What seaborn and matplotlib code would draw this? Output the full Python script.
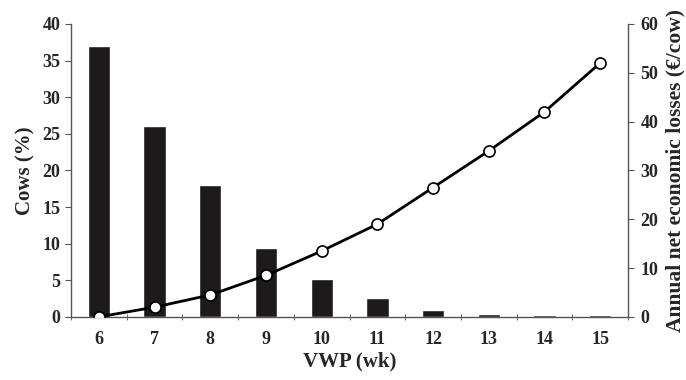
import numpy as np
import pandas as pd
import matplotlib
matplotlib.use("Agg")
import matplotlib.pyplot as plt
import seaborn as sns

# data
vwp = ["6", "7", "8", "9", "10", "11", "12", "13", "14", "15"]
cows_pct = [37, 26, 18, 9.4, 5.2, 2.6, 1.0, 0.45, 0.2, 0.2]
losses = [0, 2, 4.5, 8.5, 13.5, 19, 26.5, 34, 42, 52]

df = pd.DataFrame({"vwp": vwp, "cows": cows_pct, "loss": losses})

sns.set_style("white")
plt.rcParams["font.family"] = ["Liberation Serif", "DejaVu Serif"]
plt.rcParams["font.weight"] = "bold"

fig = plt.figure(figsize=(6.86, 3.8), dpi=100)
ax = fig.add_axes([0.1035, 0.166, 0.812, 0.771])

sns.barplot(data=df, x="vwp", y="cows", color="#1c1a1a", width=0.4,
            saturation=1, ax=ax)

ax2 = ax.twinx()
sns.pointplot(data=df, x="vwp", y="loss", color="black", markers="o",
              linewidth=2, markersize=8, markerfacecolor="white",
              markeredgecolor="black", markeredgewidth=1.2, ax=ax2)

ax.set_xlim(-0.5, 9.5)
ax.set_ylim(0, 40)
ax2.set_ylim(0, 60)
ax.set_yticks(np.arange(0, 41, 5))
ax2.set_yticks(np.arange(0, 61, 10))

spine_col = "#555555"
for a in (ax, ax2):
    a.spines["top"].set_visible(False)
    for s in ("left", "right", "bottom"):
        a.spines[s].set_color(spine_col)
        a.spines[s].set_linewidth(1.0)
ax.spines["right"].set_visible(False)
ax2.spines["left"].set_visible(False)
ax2.spines["bottom"].set_visible(False)

# x ticks at category boundaries
ax.set_xticks(np.arange(-0.5, 10, 1), minor=True)
ax.tick_params(axis="x", which="major", length=0, pad=10, labelsize=13)
ax.tick_params(axis="x", which="minor", length=4, direction="inout",
               color=spine_col, bottom=True)
ax.tick_params(axis="y", length=4, direction="out", color=spine_col,
               labelsize=13, left=True)
ax2.tick_params(axis="y", length=4, direction="out", color=spine_col,
                labelsize=13, right=True, pad=5)

for lab in ax.get_xticklabels() + ax.get_yticklabels() + ax2.get_yticklabels():
    lab.set_fontweight("bold")

ax.set_xlabel("VWP (wk)", fontsize=15, fontweight="bold", labelpad=3)
ax.set_ylabel("Cows (%)", fontsize=15, fontweight="bold", labelpad=5)
ax2.set_ylabel("Annual net economic losses (€/cow)", fontsize=15.5,
               fontweight="bold", labelpad=5)

fig.savefig("out.png", dpi=100)
